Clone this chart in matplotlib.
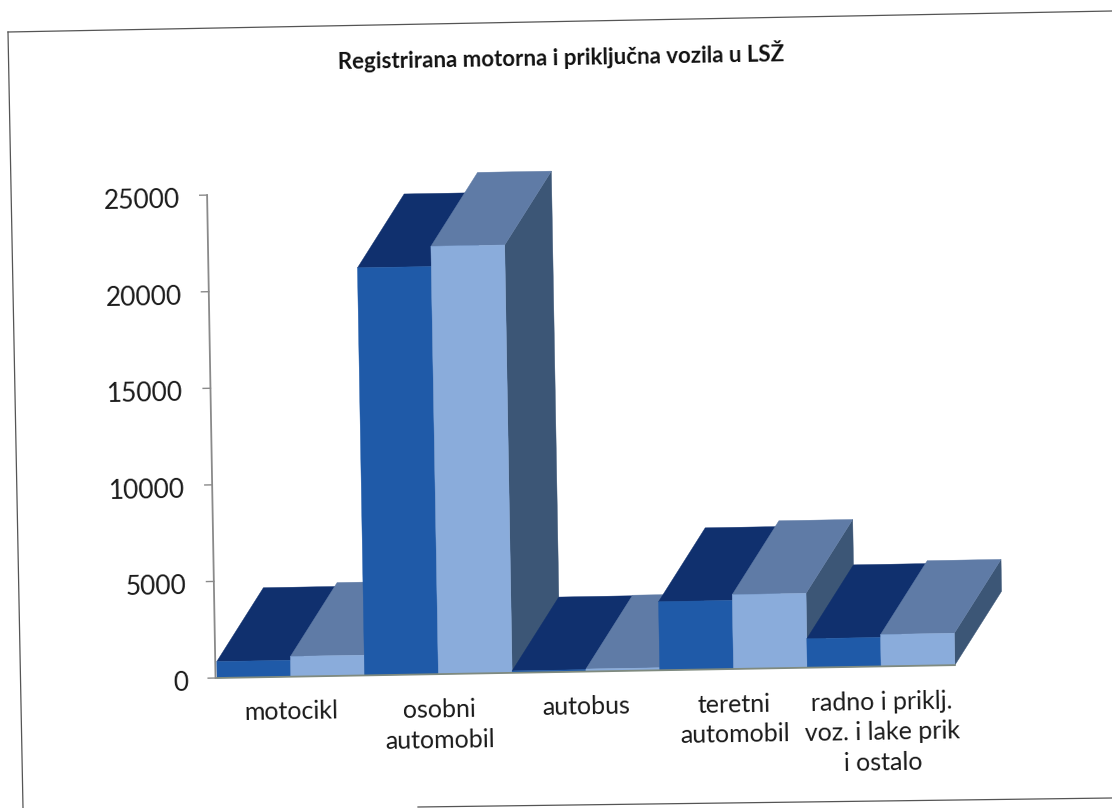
import matplotlib
matplotlib.use('Agg')
import matplotlib.pyplot as plt
from matplotlib.lines import Line2D
from matplotlib.patches import Polygon
from matplotlib.transforms import Affine2D

categories = ['motocikl', 'osobni\nautomobil', 'autobus', 'teretni\nautomobil',
              'radno i priklj.\nvoz. i lake prik\ni ostalo']
series_dark = [850, 21100, 100, 3550, 1500]
series_light = [1050, 22150, 130, 3850, 1650]
y_ticks = [0, 5000, 10000, 15000, 20000, 25000]
title = 'Registrirana motorna i priključna vozila u LSŽ'

DEPTH_X = 0.325
DEPTH_Y = 3780
DARK = ('#1f5aa8', '#10306e', '#12386f')
LIGHT = ('#8aacdb', '#5f7ba6', '#3c5676')

plt.rcParams['font.family'] = ['Lato', 'DejaVu Sans']

fig = plt.figure(figsize=(11.12, 8.08), dpi=100, facecolor='white')
ax = fig.add_axes([217 / 1112, 130 / 808, 738 / 1112, 483 / 808])
ax.set_xlim(-0.5, 4.5)
ax.set_ylim(0, 25000)
ax.axis('off')

# the page was scanned slightly crooked, everything turns about the chart origin
rot = ax.transData + Affine2D().rotate_deg_around(217, 130, 1.0)


def draw_bar(x0, x1, value, colors):
    front, top, side = colors
    ax.add_patch(Polygon([(x1, 0), (x1 + DEPTH_X, DEPTH_Y), (x1 + DEPTH_X, value + DEPTH_Y), (x1, value)],
                         facecolor=side, edgecolor=side, lw=0.3, transform=rot, clip_on=False))
    ax.add_patch(Polygon([(x0, value), (x0 + DEPTH_X, value + DEPTH_Y), (x1 + DEPTH_X, value + DEPTH_Y), (x1, value)],
                         facecolor=top, edgecolor=top, lw=0.3, transform=rot, clip_on=False))
    ax.add_patch(Polygon([(x0, 0), (x0, value), (x1, value), (x1, 0)],
                         facecolor=front, edgecolor=front, lw=0.3, transform=rot, clip_on=False))


for i in range(len(categories)):
    draw_bar(i - 0.5, i, series_dark[i], DARK)
    draw_bar(i, i + 0.5, series_light[i], LIGHT)
    ax.text(i, -1240, categories[i], transform=rot, ha='center', va='top', fontsize=18,
            color='#1a1a1a', rotation=1, rotation_mode='anchor', linespacing=1.4, clip_on=False)

# axis lines and ticks
ax.add_line(Line2D([-0.51, -0.51], [0, y_ticks[-1]], color='#8a8a8a', lw=1.3, transform=rot, clip_on=False))
ax.add_line(Line2D([-0.5, 4.5], [0, 0], color='#7f8a7f', lw=1.3, transform=rot, clip_on=False))
for tick in y_ticks:
    ax.add_line(Line2D([-0.56, -0.51], [tick, tick], color='#8a8a8a', lw=1.0, transform=rot, clip_on=False))
    ax.text(-0.695, tick - 250, str(tick), transform=rot, ha='right', va='center', fontsize=19,
            color='#1a1a1a', rotation=1, rotation_mode='anchor', clip_on=False)

# outer frame, in page pixels: left and top edges, and the part of the bottom edge that shows
frame_lines = [[(8, 32), (1112, 11)], [(8, 32), (23, 808)], [(418, 807), (1112, 798)]]
for line in frame_lines:
    fig.add_artist(Line2D([p[0] / 1112 for p in line], [1 - p[1] / 808 for p in line],
                          color='#555555', lw=0.9))

fig.text(561 / 1112, 1 - 57 / 808, title, ha='center', va='center', fontsize=16, fontweight='bold',
         color='#111111', rotation=1, rotation_mode='anchor')

fig.savefig('out.png', dpi=100)
